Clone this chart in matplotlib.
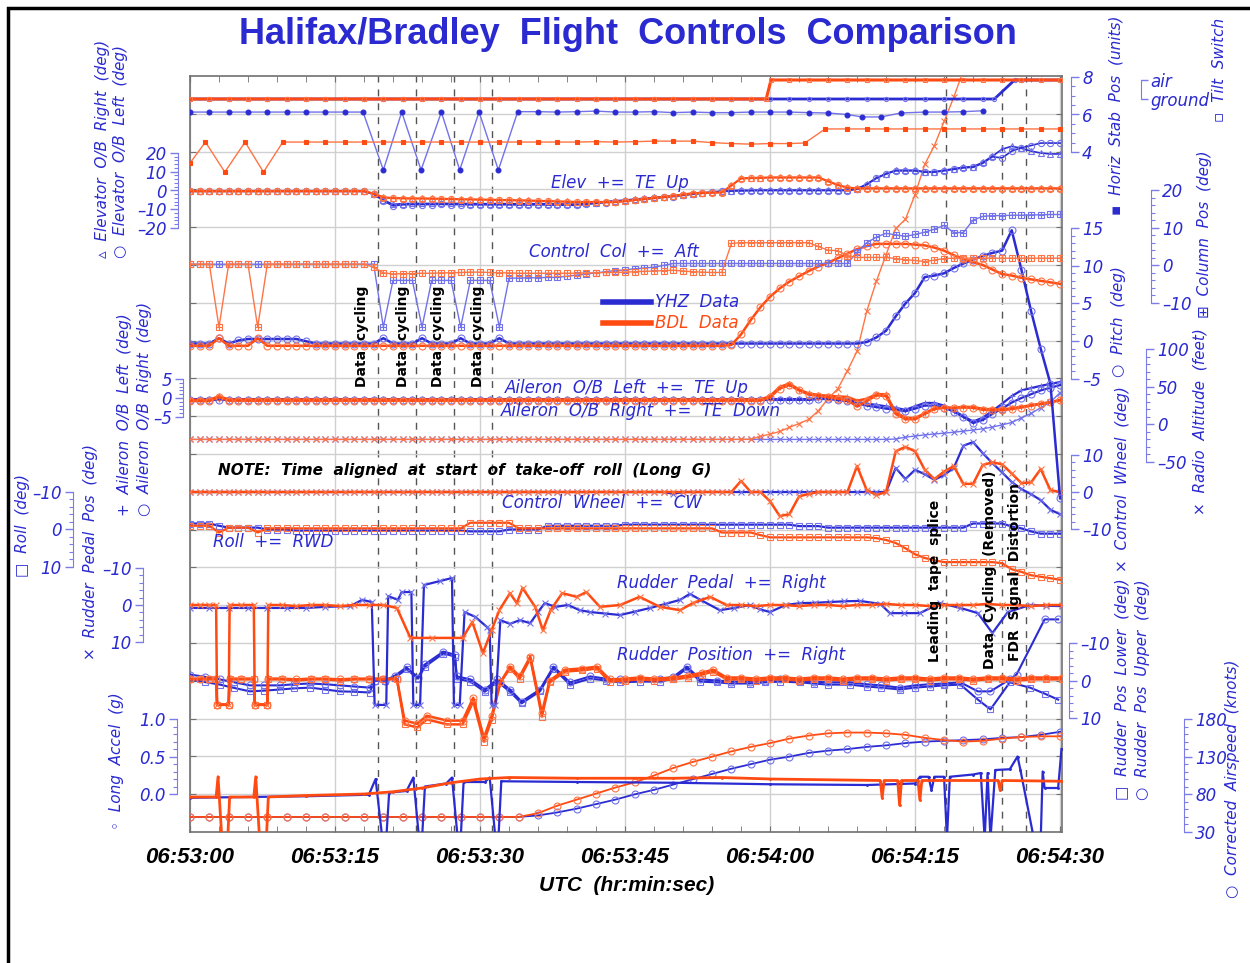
import numpy as np
import matplotlib
matplotlib.use('Agg')
import matplotlib.pyplot as plt
from matplotlib.ticker import MultipleLocator
from matplotlib.patches import Rectangle

# ---------------- data (time in s after 06:53:00) ----------------
time_ticks = [0, 15, 30, 45, 60, 75, 90]
time_labels = ['06:53:00', '06:53:15', '06:53:30', '06:53:45', '06:54:00', '06:54:15', '06:54:30']
event_lines = [19.4, 23.4, 27.3, 31.2, 78.2, 84.0, 86.5]
sec_grid = list(range(0, 91))          # 1-s samples
sec_grid_2 = list(range(0, 91, 2))     # 2-s samples
sec_grid_ralt = list(range(0, 81))

# Tilt switch (0 = ground, 1 = air)
tilt_yhz_t = [0, 2, 4, 6, 8, 10, 12, 14, 16, 18, 20, 22, 24, 26, 28, 30, 32, 34, 36, 38, 40, 42, 44, 46, 48, 50,
              52, 54, 56, 58, 60, 62, 64, 66, 68, 70, 72, 74, 76, 78, 80, 82, 83.2, 85.3, 86, 88, 90]
tilt_yhz_v = [0, 0, 0, 0, 0, 0, 0, 0, 0, 0, 0, 0, 0, 0, 0, 0, 0, 0, 0, 0, 0, 0, 0, 0, 0, 0,
              0, 0, 0, 0, 0, 0, 0, 0, 0, 0, 0, 0, 0, 0, 0, 0, 0, 1, 1, 1, 1]
tilt_bdl_t = [0, 2, 4, 6, 8, 10, 12, 14, 16, 18, 20, 22, 24, 26, 28, 30, 32, 34, 36, 38, 40, 42, 44, 46, 48, 50,
              52, 54, 56, 58, 59.6, 60.1, 62, 64, 66, 68, 70, 72, 74, 76, 78, 80, 82, 84, 86, 88, 90]
tilt_bdl_v = [0, 0, 0, 0, 0, 0, 0, 0, 0, 0, 0, 0, 0, 0, 0, 0, 0, 0, 0, 0, 0, 0, 0, 0, 0, 0,
              0, 0, 0, 0, 0, 1, 1, 1, 1, 1, 1, 1, 1, 1, 1, 1, 1, 1, 1, 1, 1]

# Horizontal stabiliser position (units)
stab_yhz_t = [0, 2, 4, 6, 8, 10, 12, 14, 16, 17.9, 20.0, 21.9, 23.9, 26.0, 27.9, 29.9, 31.9, 33.9, 36, 38, 40,
              42, 44, 46, 48, 50, 52, 54, 56, 58, 60, 62, 64, 66, 68, 69.5, 71.5, 73.5, 76, 78, 80, 82]
stab_yhz_v = [6.13, 6.13, 6.13, 6.13, 6.13, 6.13, 6.13, 6.13, 6.13, 6.13, 3.04, 6.13, 3.04, 6.13, 3.04, 6.13,
              3.04, 6.15, 6.15, 6.13, 6.15, 6.18, 6.13, 6.13, 6.15, 6.10, 6.13, 6.10, 6.10, 6.13, 6.13, 6.13,
              6.10, 6.08, 6.0, 5.87, 5.87, 6.08, 6.13, 6.13, 6.15, 6.2]
stab_bdl_t = [0, 1.6, 3.6, 5.7, 7.6, 9.6, 12, 14, 16, 18, 20, 22, 24, 26, 28, 30, 32, 34, 36, 38, 40, 42, 44,
              46, 48, 50, 52, 54, 56, 58, 60, 62, 63.6, 65.7, 68, 70, 72, 74, 76, 78, 80, 82, 84, 86, 88, 90]
stab_bdl_v = [3.41, 4.53, 2.93, 4.53, 2.93, 4.53, 4.53, 4.53, 4.53, 4.53, 4.53, 4.53, 4.53, 4.53, 4.53, 4.53,
              4.53, 4.53, 4.53, 4.53, 4.53, 4.55, 4.53, 4.55, 4.58, 4.58, 4.58, 4.50, 4.45, 4.42, 4.45, 4.45,
              4.48, 5.23, 5.23, 5.23, 5.23, 5.23, 5.23, 5.23, 5.23, 5.23, 5.23, 5.23, 5.23, 5.23]

# Elevator O/B (deg), 1-s samples
elev_r_yhz_v = [-0.3, -0.3, -0.3, -0.3, -0.3, -0.3, -0.3, -0.3, -0.3, -0.3,
                -0.3, -0.3, -0.3, -0.3, -0.3, -0.3, -0.3, -0.3, -0.3, -1.8,
                -5.0, -7.4, -7.0, -6.9, -6.9, -6.9, -6.8, -6.9, -6.9, -7.0,
                -7.0, -7.0, -7.0, -7.0, -7.1, -7.1, -7.0, -7.1, -7.2, -7.2,
                -7.3, -6.9, -6.4, -5.9, -5.5, -5.1, -4.6, -4.2, -3.7, -3.3,
                -2.9, -2.3, -1.8, -1.3, -0.8, -0.3, 0.0, 0.1, 0.1, 0.2,
                0.2, 0.2, 0.2, 0.2, 0.2, 0.2, 0.2, 0.2, 0.2, 0.9,
                3.4, 6.7, 9.0, 10.8, 10.8, 10.8, 10.0, 10.0, 10.8, 11.6,
                12.4, 12.7, 15.0, 18.3, 22.0, 23.6, 22.5, 21.0, 20.0, 19.5,
                19.5]
elev_l_yhz_v = [-0.5, -0.5, -0.5, -0.5, -0.5, -0.5, -0.5, -0.5, -0.5, -0.5,
                -0.5, -0.5, -0.5, -0.5, -0.5, -0.5, -0.5, -0.5, -0.5, -2.0,
                -5.5, -8.2, -7.6, -7.5, -7.5, -7.5, -7.4, -7.5, -7.5, -7.6,
                -7.6, -7.6, -7.6, -7.6, -7.7, -7.7, -7.6, -7.7, -7.8, -7.8,
                -7.9, -7.4, -6.9, -6.4, -6.0, -5.6, -5.1, -4.7, -4.2, -3.7,
                -3.2, -2.6, -2.0, -1.5, -1.0, -0.5, -0.3, -0.2, -0.1, 0.0,
                0.0, 0.0, 0.0, 0.0, 0.0, 0.0, 0.0, 0.0, 0.0, 0.7,
                3.2, 6.5, 8.8, 10.5, 10.5, 10.5, 9.8, 9.8, 10.5, 11.3,
                12.1, 12.4, 14.5, 18.0, 17.4, 21.0, 22.8, 24.0, 25.3, 25.3,
                25.3]
elev_r_bdl_v = [-0.2, -0.2, -0.2, -0.2, -0.2, -0.2, -0.2, -0.2, -0.2, -0.2,
                -0.2, -0.2, -0.2, -0.2, -0.2, -0.2, -0.2, -0.2, -0.2, -1.5,
                -3.5, -3.9, -4.0, -4.1, -4.1, -4.2, -4.3, -4.4, -4.5, -4.6,
                -4.7, -4.8, -4.9, -5.0, -5.1, -5.2, -5.4, -5.5, -5.7, -5.8,
                -6.0, -6.0, -6.0, -6.0, -6.0, -5.5, -4.9, -4.4, -3.8, -3.3,
                -2.7, -2.0, -1.3, -1.1, -1.0, -0.9, 2.8, 6.6, 6.8, 6.9,
                7.1, 7.1, 7.1, 7.1, 7.1, 7.1, 5.1, 3.1, 1.7, 1.3,
                1.3, 1.3, 1.3, 1.3, 1.3, 1.3, 1.3, 1.3, 1.3, 1.3,
                1.3, 1.3, 1.3, 1.3, 1.3, 1.3, 1.3, 1.3, 1.3, 1.3,
                1.3]
elev_l_bdl_v = [-0.5, -0.5, -0.5, -0.5, -0.5, -0.5, -0.5, -0.5, -0.5, -0.5,
                -0.5, -0.5, -0.5, -0.5, -0.5, -0.5, -0.5, -0.5, -0.5, -1.8,
                -3.8, -4.2, -4.3, -4.4, -4.4, -4.5, -4.6, -4.7, -4.8, -4.9,
                -5.0, -5.1, -5.2, -5.3, -5.4, -5.5, -5.7, -5.8, -6.0, -6.1,
                -6.3, -6.3, -6.3, -6.3, -6.3, -5.8, -5.2, -4.7, -4.1, -3.6,
                -3.0, -2.3, -1.6, -1.4, -1.3, -1.2, 2.5, 6.3, 6.5, 6.6,
                6.8, 6.8, 6.8, 6.8, 6.8, 6.8, 4.8, 2.8, 1.4, 1.0,
                1.0, 1.0, 1.0, 1.0, 1.0, 1.0, 1.0, 1.0, 1.0, 1.0,
                1.0, 1.0, 1.0, 1.0, 1.0, 1.0, 1.0, 1.0, 1.0, 1.0,
                1.0]

# Control column position (deg), 1-s samples
col_yhz_v = [0.3, 0.3, 0.3, 0.3, 0.3, 0.3, 0.3, 0.3, 0.3, 0.3,
             0.3, 0.3, 0.3, 0.3, 0.3, 0.3, 0.3, 0.3, 0.3, 0.3,
             -16.4, -4.0, -4.0, -4.0, -16.4, -4.0, -4.0, -4.0, -16.4, -4.0,
             -4.0, -4.0, -16.4, -3.4, -3.4, -3.3, -3.3, -3.2, -3.2, -2.9,
             -2.6, -2.3, -2.0, -1.7, -1.4, -1.2, -0.9, -0.7, -0.5, 0.0,
             0.5, 0.5, 0.5, 0.5, 0.5, 0.5, 0.5, 0.5, 0.5, 0.5,
             0.5, 0.5, 0.5, 0.5, 0.5, 0.5, 0.5, 0.5, 0.5, 3.5,
             6.0, 7.5, 8.5, 8.1, 7.7, 8.2, 8.8, 9.6, 10.6, 8.7,
             8.7, 12.0, 13.0, 13.2, 13.2, 13.3, 13.3, 13.4, 13.4, 13.5,
             13.5]
col_bdl_v = [0.3, 0.3, 0.3, -16.4, 0.3, 0.3, 0.3, -16.4, 0.3, 0.3,
             0.3, 0.3, 0.3, 0.3, 0.3, 0.3, 0.3, 0.3, 0.3, -0.5,
             -2.0, -2.3, -2.2, -2.2, -2.1, -2.1, -2.0, -2.0, -1.9, -1.8,
             -1.8, -1.9, -2.0, -2.0, -2.1, -2.1, -2.1, -2.1, -2.1, -2.1,
             -2.1, -2.0, -2.0, -1.9, -1.9, -1.8, -1.7, -1.6, -1.5, -1.4,
             -1.3, -1.5, -1.7, -1.8, -1.9, -1.9, 5.8, 6.0, 6.0, 6.0,
             6.0, 6.0, 6.0, 6.0, 6.0, 5.0, 4.0, 3.9, 2.6, 2.1,
             2.1, 2.1, 2.1, 1.8, 1.5, 1.3, 1.0, 1.4, 1.8, 1.9,
             1.9, 1.9, 1.9, 1.9, 1.9, 1.9, 1.9, 1.9, 1.9, 1.9,
             1.9]

# Pitch (deg), 1-s samples
pitch_yhz_v = [-0.3, -0.3, -0.3, 0.4, -0.3, 0.1, 0.3, 0.3, 0.3, 0.3,
               0.3, 0.3, 0.0, -0.3, -0.3, -0.3, -0.3, -0.3, -0.3, -0.3,
               0.4, -0.3, -0.3, -0.3, 0.4, -0.3, -0.3, -0.3, 0.4, -0.3,
               -0.3, -0.3, 0.4, -0.3, -0.3, -0.3, -0.3, -0.3, -0.3, -0.3,
               -0.3, -0.3, -0.3, -0.3, -0.3, -0.3, -0.3, -0.3, -0.3, -0.3,
               -0.3, -0.3, -0.3, -0.3, -0.3, -0.3, -0.3, -0.3, -0.3, -0.3,
               -0.3, -0.3, -0.3, -0.3, -0.3, -0.3, -0.3, -0.3, -0.3, -0.3,
               -0.1, 0.5, 1.4, 3.3, 5.0, 6.4, 8.5, 8.7, 9.0, 9.7,
               10.3, 10.8, 11.3, 11.7, 12.0, 14.7, 9.5, 4.0, -1.0, -5.6,
               -20.8]
pitch_bdl_v = [-0.6, -0.6, -0.6, 0.4, -0.6, -0.6, -0.6, 0.4, -0.6, -0.6,
               -0.6, -0.6, -0.6, -0.6, -0.6, -0.6, -0.6, -0.6, -0.6, -0.6,
               -0.6, -0.6, -0.6, -0.6, -0.6, -0.6, -0.6, -0.6, -0.6, -0.6,
               -0.6, -0.6, -0.6, -0.6, -0.6, -0.6, -0.6, -0.6, -0.6, -0.6,
               -0.6, -0.6, -0.6, -0.6, -0.6, -0.6, -0.6, -0.6, -0.6, -0.6,
               -0.6, -0.6, -0.6, -0.6, -0.6, -0.6, -0.5, 0.9, 2.8, 4.5,
               5.9, 7.0, 7.9, 8.6, 9.3, 9.9, 10.4, 11.0, 11.6, 12.2,
               12.6, 12.9, 12.9, 12.9, 12.9, 12.8, 12.7, 12.4, 12.0, 11.4,
               10.9, 10.5, 10.1, 9.5, 8.9, 8.7, 8.4, 8.2, 8.0, 7.8,
               7.6]

# Aileron O/B (deg), 1-s samples
ail_l_yhz_v = [-0.3, -0.3, -0.3, -0.3, -0.3, -0.3, -0.3, -0.3, -0.3, -0.3,
               -0.3, -0.3, -0.3, -0.3, -0.3, -0.3, -0.3, -0.3, -0.3, -0.3,
               -0.3, -0.3, -0.3, -0.3, -0.3, -0.3, -0.3, -0.3, -0.3, -0.3,
               -0.3, -0.3, -0.3, -0.3, -0.3, -0.3, -0.3, -0.3, -0.3, -0.3,
               -0.3, -0.3, -0.3, -0.3, -0.3, -0.3, -0.3, -0.3, -0.3, -0.3,
               -0.3, -0.3, -0.3, -0.3, -0.3, -0.3, -0.3, -0.3, -0.3, -0.3,
               -0.3, -0.3, -0.3, -0.3, -0.3, -0.1, 0.2, -0.2, -0.5, -1.0,
               -1.5, -1.8, -2.2, -2.6, -3.1, -2.2, -1.3, -1.3, -2.0, -3.3,
               -4.8, -6.2, -5.2, -3.4, -1.5, 0.5, 2.0, 2.6, 3.2, 3.7,
               4.2]
ail_r_yhz_v = [-0.5, -0.5, -0.5, -0.5, -0.5, -0.5, -0.5, -0.5, -0.5, -0.5,
               -0.5, -0.5, -0.5, -0.5, -0.5, -0.5, -0.5, -0.5, -0.5, -0.5,
               -0.5, -0.5, -0.5, -0.5, -0.5, -0.5, -0.5, -0.5, -0.5, -0.5,
               -0.5, -0.5, -0.5, -0.5, -0.5, -0.5, -0.5, -0.5, -0.5, -0.5,
               -0.5, -0.5, -0.5, -0.5, -0.5, -0.5, -0.5, -0.5, -0.5, -0.5,
               -0.5, -0.5, -0.5, -0.5, -0.5, -0.5, -0.5, -0.5, -0.5, -0.5,
               -0.5, -0.5, -0.5, -0.5, -0.5, -0.3, -0.2, -0.6, -0.8, -1.4,
               -2.0, -2.4, -2.8, -3.1, -3.5, -2.8, -2.0, -2.0, -2.5, -3.6,
               -5.0, -6.6, -5.8, -4.2, -2.8, -1.2, 0.0, 1.0, 2.0, 2.7,
               3.4]
ail_l_bdl_v = [-0.5, -0.5, -0.5, 0.5, -0.4, -0.4, -0.4, -0.4, -0.4, -0.4,
               -0.4, -0.4, -0.4, -0.4, -0.4, -0.4, -0.4, -0.4, -0.4, -0.4,
               -0.4, -0.4, -0.4, -0.4, -0.4, -0.4, -0.4, -0.4, -0.4, -0.4,
               -0.4, -0.4, -0.4, -0.4, -0.4, -0.4, -0.4, -0.4, -0.4, -0.4,
               -0.4, -0.4, -0.4, -0.4, -0.4, -0.4, -0.4, -0.4, -0.4, -0.4,
               -0.4, -0.4, -0.4, -0.4, -0.4, -0.4, -0.4, -0.4, -0.4, -0.4,
               0.5, 2.9, 3.8, 2.2, 1.2, 0.8, 0.6, 0.4, 0.3, -0.7,
               -0.2, 1.0, 1.0, -3.8, -5.2, -5.3, -4.0, -2.7, -2.5, -2.6,
               -2.3, -2.4, -2.8, -3.0, -3.0, -2.7, -2.3, -1.9, -1.5, -1.1,
               -0.6]
ail_r_bdl_v = [-0.8, -0.8, -0.8, 0.2, -0.7, -0.7, -0.7, -0.7, -0.7, -0.7,
               -0.7, -0.7, -0.7, -0.7, -0.7, -0.7, -0.7, -0.7, -0.7, -0.7,
               -0.7, -0.7, -0.7, -0.7, -0.7, -0.7, -0.7, -0.7, -0.7, -0.7,
               -0.7, -0.7, -0.7, -0.7, -0.7, -0.7, -0.7, -0.7, -0.7, -0.7,
               -0.7, -0.7, -0.7, -0.7, -0.7, -0.7, -0.7, -0.7, -0.7, -0.7,
               -0.7, -0.7, -0.7, -0.7, -0.7, -0.7, -0.7, -0.7, -0.7, -0.7,
               0.2, 2.5, 3.4, 2.0, 0.9, 0.6, 0.2, -0.2, -0.6, -2.2,
               -0.8, 0.7, 0.5, -4.2, -5.6, -5.6, -4.2, -2.9, -2.6, -2.6,
               -2.5, -2.6, -3.1, -3.2, -3.2, -2.9, -2.5, -2.0, -1.6, -1.1,
               -0.5]

# Radio altitude (feet)
ralt_yhz_v = [-20, -20, -20, -20, -20, -20, -20, -20, -20, -20,
              -20, -20, -20, -20, -20, -20, -20, -20, -20, -20,
              -20, -20, -20, -20, -20, -20, -20, -20, -20, -20,
              -20, -20, -20, -20, -20, -20, -20, -20, -20, -20,
              -20, -20, -20, -20, -20, -20, -20, -20, -20, -20,
              -20, -20, -20, -20, -20, -20, -20, -20, -20, -20,
              -20, -20, -20, -20, -20, -20, -20, -20, -20, -20,
              -20, -20, -20, -19.5, -17, -15.5, -14, -12.8, -11.7, -10.5,
              -9, -7.5, -6, -3.5, -0.8, 2.5, 8.5, 14.5, 22, 29.5,
              42]
ralt_bdl_v = [-20, -20, -20, -20, -20, -20, -20, -20, -20, -20,
              -20, -20, -20, -20, -20, -20, -20, -20, -20, -20,
              -20, -20, -20, -20, -20, -20, -20, -20, -20, -20,
              -20, -20, -20, -20, -20, -20, -20, -20, -20, -20,
              -20, -20, -20, -20, -20, -20, -20, -20, -20, -20,
              -20, -20, -20, -20, -20, -20, -20, -20, -19.7, -16,
              -13, -9.5, -4, 1, 6.5, 18, 34, 47, 71, 97,
              150, 190, 225, 260, 272, 305, 345, 370, 402, 434,
              470]

# Control wheel (deg), 1-s samples
whl_yhz_v = [0, 0, 0, 0, 0, 0, 0, 0, 0, 0,
             0, 0, 0, 0, 0, 0, 0, 0, 0, 0,
             0, 0, 0, 0, 0, 0, 0, 0, 0, 0,
             0, 0, 0, 0, 0, 0, 0, 0, 0, 0,
             0, 0, 0, 0, 0, 0, 0, 0, 0, 0,
             -0.5, 0, 0, 0, 0, 0, 0, 0, 0, 0,
             0, 0, 0, 0, 0, 0, 0, 0, 0, 0,
             0, 0, 0, 6.5, 3.5, 6.0, 4.8, 3.3, 4.6, 6.5,
             12.5, 13.5, 10.5, 7.8, 5.3, 2.7, 0.8, -0.6, -2.2, -4.8,
             -6.0]
whl_bdl_v = [0, 0, 0, 0, 0, 0, 0, 0, 0, 0,
             0, 0, 0, 0, 0, 0, 0, 0, 0, 0,
             0, 0, 0, 0, 0, 0, 0, 0, 0, 0,
             0, 0, 0, 0, 0, 0, 0, 0, 0, 0,
             0, 0, 0, 0, 0, 0, 0, 0, 0, 0,
             0, 0, 0, 0, 0, 0, 0, 3.0, 0, 0,
             -2.5, -6.5, -6.0, -1.2, -0.5, 0, 0, 0, 0, 7.0,
             0.5, -0.8, 0, 11.0, 12.2, 11.0, 6.0, 3.5, 5.5, 7.0,
             2.2, 2.2, 7.3, 8.0, 7.5, 5.0, 2.4, 2.6, 6.2, 0.5,
             0]

# Roll (deg, + = RWD), 1-s samples
roll_yhz_v = [-1.6, -1.6, -1.6, -1.0, -0.5, -0.5, -0.5, -0.5, 0.0, 0.0,
              0.0, 0.3, 0.3, 0.3, 0.3, 0.3, 0.3, 0.3, 0.3, 0.3,
              0.3, 0.3, 0.3, 0.3, 0.3, 0.3, 0.3, 0.3, 0.3, 0.5,
              0.5, 0.5, 0.5, 0.0, 0.0, 0.0, 0.0, -1.0, -1.0, -1.0,
              -1.0, -1.0, -1.0, -1.0, -1.0, -1.3, -1.3, -1.3, -1.3, -1.3,
              -1.3, -1.3, -1.3, -1.3, -1.3, -1.3, -1.3, -1.3, -1.3, -1.3,
              -1.3, -1.3, -1.3, -0.9, -0.9, -0.9, -0.5, -0.5, -0.5, -0.5,
              -0.5, -0.5, -0.5, -0.5, -0.5, -0.5, -0.5, -0.5, -0.5, -0.5,
              -0.5, -1.6, -1.6, -1.6, -1.6, -0.8, -0.3, 0.5, 1.1, 1.1,
              1.1]
roll_bdl_v = [-1.0, -1.0, -1.0, 0.8, -0.5, -0.5, -0.5, 0.8, -0.3, -0.3,
              -0.3, -0.3, -0.3, -0.3, -0.3, -0.3, -0.3, -0.3, -0.3, -0.3,
              -0.3, -0.3, -0.3, -0.3, -0.3, -0.3, -0.3, -0.3, -0.3, -1.8,
              -1.8, -1.8, -1.8, -1.8, -0.3, -0.3, -0.3, -0.3, -0.3, -0.3,
              -0.3, -0.3, -0.3, -0.3, -0.3, -0.3, -0.3, -0.3, -0.3, -0.3,
              -0.3, -0.3, -0.3, -0.3, -0.3, 0.8, 0.8, 0.8, 0.8, 1.5,
              2.1, 2.1, 2.1, 2.1, 2.1, 2.1, 2.1, 2.1, 2.1, 2.1,
              2.1, 2.3, 2.8, 3.6, 5.0, 6.6, 7.6, 8.2, 8.7, 8.7,
              8.7, 8.7, 8.7, 8.7, 9.0, 10.6, 11.3, 12.2, 12.6, 13.0,
              13.4]

# Rudder pedal position (deg)
ped_yhz_t = [0, 2, 4, 6, 8, 10, 12, 14, 16.6, 17.8, 18.8, 19.1, 20.3, 20.5, 21.5, 21.9, 22.9, 23.1, 23.8, 24.2,
             25.9, 27.1, 27.3, 27.9, 28.4, 29.5, 30.7, 31.0, 31.2, 31.6, 32.1, 33.1, 34.1, 35.2, 36.0, 36.7, 37.8,
             39.1, 40.3, 41.4, 42.9, 44.5, 46.0, 47.6, 49.2, 50.7, 51.7, 52.8, 54.8, 56.3, 57.9, 59.0, 60.0, 61.6,
             63.1, 64.6, 66.2, 67.7, 69.3, 71.4, 72.4, 73.9, 75.5, 77.6, 79.7, 81.5, 83.0, 84.6, 86.9, 88.5, 90.2]
ped_yhz_v = [0.8, 0.8, 0.8, 0.8, 0.8, 0.8, 0.8, 0.5, 0.3, -1.4, -0.8, 27, 27, -2.4, -1.4, -3.5, -3.5, 27, 27, -5.4,
             -6.5, -7.3, 27, 27, 1.9, 3.2, 5.9, 6.8, 27, 27, 4.1, 5.1, 4.1, 4.9, 1.9, -0.5, 0.5,
             0.0, 1.4, 1.9, 2.3, 2.7, 1.8, 0.8, -0.3, -1.4, -3.0, -1.4, 1.4, 0.8, 0.0, 1.2, 1.9, 0.0,
             -0.5, -0.6, -0.8, -1.0, -1.1, -0.3, 2.2, 2.2, 2.2, -0.5, 0.8, 2.2, 7.6, 1.9, 0.0, 0.2, 0.3]
ped_bdl_t = [0, 1, 2, 2.7, 2.8, 4.0, 4.1, 5.3, 6.6, 6.7, 8.0, 8.1, 9.5, 11, 12.5, 14, 15.5, 17, 18.5, 20,
             21.4, 22.8, 25, 28.2, 29.2, 30.3, 31.2, 32.0, 33.1, 33.8, 34.4, 35.7, 36.5, 37.3, 38.5, 40.0, 41.0,
             42.4, 44.5, 46.5, 48.6, 50.7, 52.0, 53.8, 55.5, 57, 58.5, 60, 61.5, 63, 64.5, 66, 67.5, 69, 70.5,
             72, 73.5, 75, 76.5, 78, 79.5, 81, 82.5, 84, 85.5, 87, 88.5, 90.2]
ped_bdl_v = [0, 0, 0, 0, 27, 27, 0, 0, 0, 27, 27, 0, 0, 0.3, 0, 0, 0.3, 0, 0, 0,
             0.8, 8.9, 8.9, 8.9, 4.6, 13.0, 6.8, 1.4, -3.2, -0.5, -4.6, 0.5, 6.8, 1.4, -3.2, -2.2, -3.5,
             0.5, 0, -2.2, 0.5, 1.4, -0.5, -2.2, 0, 0, 0.3, 0, 0, 0.3, 0, 0, 0.3, 0, 0,
             -0.3, 0, 0, 0.3, 0, 0, 0, -0.3, 0, 0, 0.3, 0, 0]

# Rudder position upper / lower (deg)
rud_up_yhz_t = [0, 1.5, 3.1, 4.6, 6.2, 7.7, 9.3, 10.8, 12.4, 14, 15.5, 17, 18.6, 19.1, 20.2, 21.2, 22.4, 23.6,
                24.3, 26.2, 27.4, 27.6, 29.0, 30.5, 31.8, 33.1, 34.3, 36.2, 37.6, 39.3, 41.4, 43, 44.5, 46.5,
                48.6, 50, 51.4, 52.8, 54.5, 56, 57.9, 59.5, 61, 63.1, 64.5, 66, 68.3, 70, 71.5, 73.4, 75, 76.5,
                78, 79.7, 81.5, 82.8, 84.8, 85.5, 88.4, 89.8]
rud_up_yhz_v = [-1.6, -1.0, -0.3, 0.5, 1.3, 1.3, 1.3, 1.0, 0.8, 1.0, 1.3, 1.6, 1.9, 0.0, 0.0, -1.3, -3.5, -0.8,
                -4.3, -7.7, -6.9, -1.1, -0.3, 2.4, -0.3, 2.4, 5.6, 2.4, -3.7, 0.5, -1.1, -0.5, -0.3, -0.5,
                -0.3, -1.0, -3.7, -0.3, 0.0, 0.3, 0.3, 0.0, -0.3, 0.0, 0.3, 0.5, 0.5, 1.0, 1.3, 1.9, 1.3, 1.0,
                0.8, 0.5, 2.9, 2.9, -0.3, -1.6, -16.3, -16.3]
rud_lo_yhz_t = [0, 1.5, 3.1, 4.6, 6.2, 7.7, 9.3, 10.8, 12.4, 14, 15.5, 17, 18.6, 19.1, 20.2, 21.2, 22.4, 23.6,
                24.3, 26.2, 27.4, 27.6, 29.0, 30.5, 31.8, 33.1, 34.3, 36.2, 37.6, 39.3, 41.4, 43, 44.5, 46.5,
                48.6, 50, 51.4, 52.8, 54.5, 56, 57.9, 59.5, 61, 63.1, 64.5, 66, 68.3, 70, 71.5, 73.4, 75, 76.5,
                78, 79.7, 81.5, 82.8, 84.8, 86.9, 88.4, 89.8]
rud_lo_yhz_v = [-0.3, 0.4, 1.1, 2.0, 2.9, 2.7, 2.4, 2.1, 1.9, 2.4, 2.9, 3.0, 3.2, 0.0, 0.0, -0.8, -3.0, -0.5,
                -3.7, -7.2, -6.4, -0.5, 0.3, 3.0, 0.3, 3.0, 6.1, 2.9, -3.2, 1.1, -0.5, 0.0, 0.5, 0.3,
                0.3, -0.5, -3.2, 0.3, 0.5, 0.8, 0.8, 0.5, 0.3, 0.5, 0.8, 1.1, 1.1, 1.6, 1.9, 2.4, 1.9, 1.6,
                1.3, 1.1, 5.1, 7.7, 0.5, 1.9, 3.5, 5.1]
rud_bdl_t = [0, 1, 2, 2.7, 2.8, 4.0, 4.1, 5.3, 6.6, 6.7, 8.0, 8.1, 9.5, 11, 12.5, 14, 15.5, 17, 18.5, 20,
             21.4, 22.2, 23.5, 24.5, 26.6, 28.2, 29.3, 30.4, 31.2, 32.1, 33.1, 34.1, 35.2, 36.4, 37.2, 38.8,
             40.5, 42.1, 43.4, 45, 46.5, 48, 50.0, 51.5, 53, 54.1, 55.5, 57, 58.5, 60, 61.5, 63, 64.5, 66, 67.5,
             69, 70.5, 72, 73.5, 75, 76.5, 78, 79.5, 81, 82.5, 84, 85.5, 87, 88.5, 90.2]
rud_up_bdl_v = [-0.5, -0.5, -0.5, -0.5, 6.4, 6.4, -0.5, -0.5, -0.5, 6.4, 6.4, -0.5, -0.5, -0.3, -0.5, -0.5,
                -0.3, -0.5, -0.5, -0.5, -0.5, 10.7, 11.5, 9.4, 10.7, 10.7, 4.6, 15.3, 9.4, 0.5, -3.7, -1.1,
                -6.4, 8.6, 0.0, -2.9, -3.2, -3.7, -0.3, -0.5, -0.8, -0.5, -0.8, -1.3, -2.1, -2.9, -0.8, -0.8,
                -0.5, -0.8, -0.8, -0.5, -0.8, -0.8, -0.5, -0.8, -0.8, -0.5, -0.8, -0.8, -0.5, -0.8, -0.8,
                -0.5, -0.8, -0.8, -0.5, -0.8, -0.8, -0.8]
rud_lo_bdl_v = [-0.3, -0.3, -0.3, -0.3, 6.4, 6.4, -0.3, -0.3, -0.3, 6.4, 6.4, -0.3, -0.3, 0.0, -0.3, -0.3,
                0.0, -0.3, -0.3, -0.3, -0.3, 11.7, 12.5, 10.4, 11.7, 11.7, 5.6, 16.3, 10.4, 0.5, -3.2, -0.5,
                -5.9, 9.6, 0.5, -2.4, -2.7, -3.2, 0.3, 0.0, -0.3, 0.0, -0.3, -0.8, -1.6, -2.4, -0.3, -0.3,
                0.0, -0.3, -0.3, 0.0, -0.3, -0.3, 0.0, -0.3, -0.3, 0.0, -0.3, -0.3, 0.0, -0.3, -0.3,
                0.0, -0.3, -0.3, 0.0, -0.3, -0.3, -0.3]

# Longitudinal acceleration (g)
acc_yhz_t = [0, 12, 18.5, 19.2, 19.9, 20.3, 20.6, 22.4, 23.1, 23.7, 24.0, 24.3, 26.5, 27.1, 27.7, 28.0, 28.3,
             30.5, 31.0, 31.6, 31.9, 32.2, 40, 50, 60, 70, 75, 75.5, 76.4, 76.7, 77.0, 78.0, 78.3, 78.6, 81.0,
             81.8, 82.2, 82.5, 82.8, 83.3, 84.8, 85.6, 85.9, 87.3, 88.0, 88.2, 88.4, 89.8, 90.15]
acc_yhz_v = [-0.05, -0.03, -0.01, 0.2, -0.6, -0.6, 0.02, 0.04, 0.22, -0.6, -0.6, 0.1, 0.14, 0.22, -0.6, -0.6,
             0.16, 0.16, 0.22, -0.6, -0.6, 0.17, 0.16, 0.15, 0.13, 0.12, 0.14, 0.23, 0.23, 0.05, 0.23, 0.23, -0.6,
             0.23, 0.26, 0.28, -0.6, 0.28, -0.6, 0.32, 0.33, 0.5, 0.32, -0.6, -0.6, 0.3, 0.08, 0.08, 0.6]
acc_bdl_t = [0, 2.7, 2.9, 3.3, 3.9, 4.1, 6.6, 6.8, 7.2, 7.9, 8.1, 12, 18, 21, 24, 27, 30, 33, 40, 50, 55, 60,
             71.4, 71.6, 71.8, 73.2, 73.4, 73.6, 75.3, 75.5, 75.7, 83.6, 83.8, 84.0, 90.2]
acc_bdl_v = [-0.04, -0.04, 0.23, -0.6, -0.6, -0.04, -0.04, 0.23, -0.6, -0.6, -0.04, -0.02, 0.0, 0.03, 0.08, 0.15,
             0.2, 0.22, 0.21, 0.21, 0.22, 0.2, 0.18, -0.05, 0.18, 0.18, -0.15, 0.18, 0.18, -0.08, 0.18, 0.18, 0.05,
             0.18, 0.17]

# Corrected airspeed (knots), 2-s samples
spd_yhz_v = [50, 50, 50, 50, 50, 50, 50, 50, 50, 50, 50, 50, 50, 50, 50, 50, 50, 50,
             52, 56, 61, 67, 73, 80, 86, 93, 100, 107, 114, 120, 126, 130, 135, 138,
             140, 143, 145, 148, 150, 151, 152, 153, 155, 156, 159, 163]
spd_bdl_v = [50, 50, 50, 50, 50, 50, 50, 50, 50, 50, 50, 50, 50, 50, 50, 50, 50, 50,
             55, 65, 73, 81, 89, 96, 105, 115, 123, 130, 137, 143, 148, 154, 158, 161,
             162, 162, 161, 159, 155, 152, 150, 151, 154, 156, 157, 157]

# ---------------- styling ----------------
W, H = 1250, 963
PL, PR, PT, PB = 190, 1062, 76, 832
BLUE = '#2b2bd2'
LBLUE = '#7272ea'
ORANGE = '#ff4a12'
LORANGE = '#ff7445'
TXT = '#2a2ad0'
SCALE_C = '#7c7ce6'
DJ = ['DejaVu Sans']
LIB = ['Liberation Sans', 'DejaVu Sans']

plt.rcParams['font.family'] = ['DejaVu Sans']
fig = plt.figure(figsize=(W / 100, H / 100), dpi=100)


def fx(p):
    return p / W


def fy(p):
    return 1 - p / H


rect = [fx(PL), fy(PB), fx(PR) - fx(PL), fy(PT) - fy(PB)]

ax = fig.add_axes(rect)
ax.set_xlim(0, 90.2)
ax.set_ylim(0, 20)
ax.set_xticks(time_ticks)
ax.set_xticklabels(time_labels, fontsize=16, fontweight='bold', fontstyle='italic', family=LIB)
ax.xaxis.set_minor_locator(MultipleLocator(3))
ax.set_yticks(np.arange(1, 20))
ax.tick_params(axis='both', which='both', direction='in', top=True, right=True, left=True,
               labelleft=False, length=4, color='#707070')
ax.tick_params(axis='x', which='major', pad=11)
ax.grid(True, which='major', color='#d0d0d0', lw=1)
for sp in ax.spines.values():
    sp.set_color('#707070')
    sp.set_linewidth(1.2)
for te in event_lines:
    ax.axvline(te, color='#555555', lw=1, ls=(0, (5, 5)), zorder=1)


def layer(va, ya, vb, yb):
    k = (yb - ya) / (vb - va)
    v_top = va + (PT - ya) / k
    v_bot = va + (PB - ya) / k
    a = fig.add_axes(rect, sharex=ax)
    a.set_ylim(v_bot, v_top)
    a.set_axis_off()
    return a


def scale(xpx, side, va, ya, vb, yb, ticks, labels, minor=None, tlen=6):
    ytop, ybot = min(ya, yb), max(ya, yb)
    s = fig.add_axes([fx(xpx), fy(ybot), 0.0008, fy(ytop) - fy(ybot)])
    if ya > yb:
        s.set_ylim(va, vb)
    else:
        s.set_ylim(vb, va)
    for nm, sp in s.spines.items():
        sp.set_visible(nm == side)
    s.spines[side].set_color(SCALE_C)
    s.patch.set_visible(False)
    s.set_xticks([])
    s.yaxis.set_ticks_position(side)
    s.set_yticks(ticks)
    s.set_yticklabels(labels, fontsize=12, fontstyle='italic', color=TXT)
    if minor:
        s.yaxis.set_minor_locator(MultipleLocator(minor))
    s.tick_params(axis='y', which='major', direction='out', length=tlen, width=1, color=SCALE_C, pad=2)
    s.tick_params(axis='y', which='minor', direction='out', length=3, width=0.8, color=SCALE_C)
    return s


def trace(a, t, v, color, mk, mcol, ms=5, lw=1.4, mev=None, filled=False, z=2):
    a.plot(t, v, color=color, lw=lw, marker=mk, ms=ms, mfc=(mcol if filled else 'none'), mec=mcol,
           mew=0.8, markevery=mev, zorder=z)


# scale mappings (value_a, pixel_a, value_b, pixel_b)
M_TILT = (1, 80, 0, 99)
M_STAB = (8, 77, 4, 152)
M_ELEV = (20, 153, -20, 228)
M_COL = (20, 190, -10, 303)
M_PITCH = (15, 228, -5, 379)
M_AIL = (5, 379, -5, 417)
M_RALT = (100, 349, -50, 462)
M_WHL = (10, 455, -10, 529)
M_ROLL = (-10, 492, 10, 567)
M_PED = (-10, 568, 10, 642)
M_RUD = (-10, 643, 10, 718)
M_ACC = (1.0, 719, 0.0, 794)
M_SPD = (180, 719, 30, 832)

# --- traces ---
a = layer(*M_SPD)
trace(a, sec_grid_2, spd_yhz_v, BLUE, 'o', LBLUE, lw=1.3)
trace(a, sec_grid_2, spd_bdl_v, ORANGE, 'o', LORANGE, lw=1.3)

a = layer(*M_ACC)
trace(a, acc_yhz_t, acc_yhz_v, BLUE, '.', BLUE, ms=2.5, lw=1.6, filled=True)
trace(a, acc_bdl_t, acc_bdl_v, ORANGE, '.', ORANGE, ms=2.5, lw=2.0, filled=True)

a = layer(*M_RUD)
trace(a, rud_lo_yhz_t, rud_lo_yhz_v, BLUE, 's', LBLUE, lw=1.5)
trace(a, rud_up_yhz_t, rud_up_yhz_v, BLUE, 'o', LBLUE, lw=1.5)
trace(a, rud_bdl_t, rud_lo_bdl_v, ORANGE, 's', LORANGE, lw=1.8)
trace(a, rud_bdl_t, rud_up_bdl_v, ORANGE, 'o', LORANGE, lw=1.8)

a = layer(*M_PED)
trace(a, ped_yhz_t, ped_yhz_v, BLUE, 'x', LBLUE, lw=1.6)
trace(a, ped_bdl_t, ped_bdl_v, ORANGE, 'x', LORANGE, lw=1.8)

a = layer(*M_ROLL)
trace(a, sec_grid, roll_yhz_v, BLUE, 's', LBLUE, lw=1.6)
trace(a, sec_grid, roll_bdl_v, ORANGE, 's', LORANGE, lw=1.6)

a = layer(*M_WHL)
trace(a, sec_grid, whl_yhz_v, BLUE, 'x', LBLUE, lw=1.6)
trace(a, sec_grid, whl_bdl_v, ORANGE, 'x', LORANGE, lw=1.8)

a = layer(*M_RALT)
trace(a, sec_grid, ralt_yhz_v, LBLUE, 'x', LBLUE, ms=4.5, lw=1.0)
trace(a, sec_grid_ralt, ralt_bdl_v, LORANGE, 'x', LORANGE, ms=4.5, lw=1.0)

a = layer(*M_AIL)
trace(a, sec_grid, ail_l_yhz_v, BLUE, '+', LBLUE, lw=1.6)
trace(a, sec_grid, ail_r_yhz_v, BLUE, 'o', LBLUE, lw=1.6)
trace(a, sec_grid, ail_l_bdl_v, ORANGE, '+', LORANGE, lw=1.8)
trace(a, sec_grid, ail_r_bdl_v, ORANGE, 'o', LORANGE, lw=1.8)

a = layer(*M_PITCH)
trace(a, sec_grid, pitch_yhz_v, BLUE, 'o', LBLUE, lw=1.8)
trace(a, sec_grid, pitch_bdl_v, ORANGE, 'o', LORANGE, lw=1.8)

a = layer(*M_COL)
trace(a, sec_grid, col_yhz_v, LBLUE, 's', LBLUE, lw=1.0)
trace(a, sec_grid, col_yhz_v, LBLUE, '+', LBLUE, ms=4, lw=0)
trace(a, sec_grid, col_bdl_v, LORANGE, 's', LORANGE, lw=1.0)
trace(a, sec_grid, col_bdl_v, LORANGE, '+', LORANGE, ms=4, lw=0)

a = layer(*M_ELEV)
trace(a, sec_grid, elev_r_yhz_v, BLUE, '^', LBLUE, ms=4.5, lw=1.2)
trace(a, sec_grid, elev_l_yhz_v, BLUE, 'o', LBLUE, ms=4.5, lw=1.2)
trace(a, sec_grid, elev_r_bdl_v, ORANGE, '^', LORANGE, ms=4.5, lw=1.2)
trace(a, sec_grid, elev_l_bdl_v, ORANGE, 'o', LORANGE, ms=4.5, lw=1.2)

a = layer(*M_STAB)
trace(a, stab_yhz_t, stab_yhz_v, LBLUE, 'o', BLUE, ms=3.5, lw=1.0, filled=True)
trace(a, stab_bdl_t, stab_bdl_v, LORANGE, 's', ORANGE, ms=3.5, lw=1.0, filled=True)

a = layer(*M_TILT)
trace(a, tilt_yhz_t, tilt_yhz_v, BLUE, 'o', LBLUE, ms=3, lw=2.0)
trace(a, tilt_bdl_t, tilt_bdl_v, ORANGE, 's', LORANGE, ms=3, lw=2.2)

# --- scales ---
MN = '\u2013'
scale(178, 'left', *M_ELEV, [20, 10, 0, -10, -20], ['20', '10', '0', MN + '10', MN + '20'], 2)
scale(183, 'left', *M_AIL, [5, 0, -5], ['5', '0', MN + '5'], 1)
scale(73, 'left', *M_ROLL, [-10, 0, 10], [MN + '10', '0', '10'], 2)
scale(143, 'left', *M_PED, [-10, 0, 10], [MN + '10', '0', '10'], 2)
scale(177, 'left', *M_ACC, [1.0, 0.5, 0.0], ['1.0', '0.5', '0.0'], 0.1)
scale(1070, 'right', *M_STAB, [8, 6, 4], ['8', '6', '4'], 0.5)
scale(1140, 'right', *M_TILT, [1, 0], ['air', 'ground'], None, tlen=5)
scale(1150, 'right', *M_COL, [20, 10, 0, -10], ['20', '10', '0', MN + '10'], 2)
scale(1070, 'right', *M_PITCH, [15, 10, 5, 0, -5], ['15', '10', '5', '0', MN + '5'], 1)
scale(1145, 'right', *M_RALT, [100, 50, 0, -50], ['100', '50', '0', MN + '50'], 10)
scale(1070, 'right', *M_WHL, [10, 0, -10], ['10', '0', MN + '10'], 2)
scale(1068, 'right', *M_RUD, [-10, 0, 10], [MN + '10', '0', '10'], 2)
scale(1183, 'right', *M_SPD, [180, 130, 80, 30], ['180', '130', '80', '30'], 10)

# --- rotated scale titles ---
vlabels = [
    (102, 258, '\u25b5  Elevator  O/B  Right  (deg)'),
    (121, 258, '\u25cb  Elevator  O/B  Left  (deg)'),
    (125, 516, '+  Aileron  O/B  Left  (deg)'),
    (144, 516, '\u25cb  Aileron  O/B  Right  (deg)'),
    (22, 577, '\u25a1  Roll  (deg)'),
    (90, 660, '\u00d7  Rudder  Pedal  Pos  (deg)'),
    (117, 830, '\u25e6  Long  Accel  (g)'),
    (1116, 215, '\u25aa  Horiz  Stab  Pos  (units)'),
    (1220, 122, '\u25ab  Tilt  Switch'),
    (1205, 318, '\u229e  Column  Pos  (deg)'),
    (1118, 377, '\u25cb  Pitch  (deg)'),
    (1200, 515, '\u00d7  Radio  Altitude  (feet)'),
    (1122, 572, '\u00d7  Control  Wheel  (deg)'),
    (1122, 800, '\u25a1  Rudder  Pos  Lower  (deg)'),
    (1142, 800, '\u25cb  Rudder  Pos  Upper  (deg)'),
    (1233, 898, '\u25cb  Corrected  Airspeed  (knots)'),
]
for x, y, s in vlabels:
    fig.text(fx(x), fy(y), s, rotation=90, rotation_mode='anchor', ha='left', va='center',
             fontsize=11, fontstyle='italic', color=TXT, family=DJ)

# --- in-plot labels ---
inlabels = [
    (551, 183, 'Elev  +=  TE  Up'),
    (529, 252, 'Control  Col  +=  Aft'),
    (505, 388, 'Aileron  O/B  Left  +=  TE  Up'),
    (501, 411, 'Aileron  O/B  Right  +=  TE  Down'),
    (502, 503, 'Control  Wheel  +=  CW'),
    (213, 542, 'Roll  +=  RWD'),
    (617, 583, 'Rudder  Pedal  +=  Right'),
    (617, 655, 'Rudder  Position  +=  Right'),
]
for x, y, s in inlabels:
    fig.text(fx(x), fy(y), s, ha='left', va='center', fontsize=12, fontstyle='italic', color=TXT, family=DJ)

fig.text(fx(218), fy(471), 'NOTE:  Time  aligned  at  start  of  take-off  roll  (Long  G)', ha='left',
         va='center', fontsize=11, fontstyle='italic', fontweight='bold', color='black', family=DJ)

# legend
fig.add_artist(plt.Line2D([fx(603), fx(651)], [fy(302), fy(302)], color=BLUE, lw=4))
fig.add_artist(plt.Line2D([fx(603), fx(651)], [fy(323), fy(323)], color=ORANGE, lw=4))
fig.text(fx(655), fy(302), 'YHZ  Data', ha='left', va='center', fontsize=12, fontstyle='italic', color=TXT)
fig.text(fx(655), fy(323), 'BDL  Data', ha='left', va='center', fontsize=12, fontstyle='italic', color=ORANGE)

# event annotations
for x in [362, 403, 438, 478]:
    fig.text(fx(x), fy(336), 'Data  cycling', rotation=90, ha='center', va='center', fontsize=10,
             fontweight='bold', color='black')
fig.text(fx(935), fy(581), 'Leading  tape  splice', rotation=90, ha='center', va='center', fontsize=10,
         fontweight='bold', color='black')
fig.text(fx(990), fy(570), 'Data  Cycling  (Removed)', rotation=90, ha='center', va='center', fontsize=10,
         fontweight='bold', color='black')
fig.text(fx(1015), fy(572), 'FDR  Signal  Distortion', rotation=90, ha='center', va='center', fontsize=10,
         fontweight='bold', color='black')

# title and x label
fig.text(fx(628), fy(35), 'Halifax/Bradley  Flight  Controls  Comparison', ha='center', va='center',
         fontsize=26, fontweight='bold', color=TXT, family=LIB)
fig.text(fx(627), fy(885), 'UTC  (hr:min:sec)', ha='center', va='center', fontsize=15, fontstyle='italic',
         fontweight='bold', color='black', family=LIB)

# outer frame
fig.add_artist(Rectangle((fx(8), fy(1100)), fx(1400) - fx(8), fy(8) - fy(1100), transform=fig.transFigure,
                         fill=False, lw=2.5, ec='black'))

fig.savefig('out.png', dpi=100)
